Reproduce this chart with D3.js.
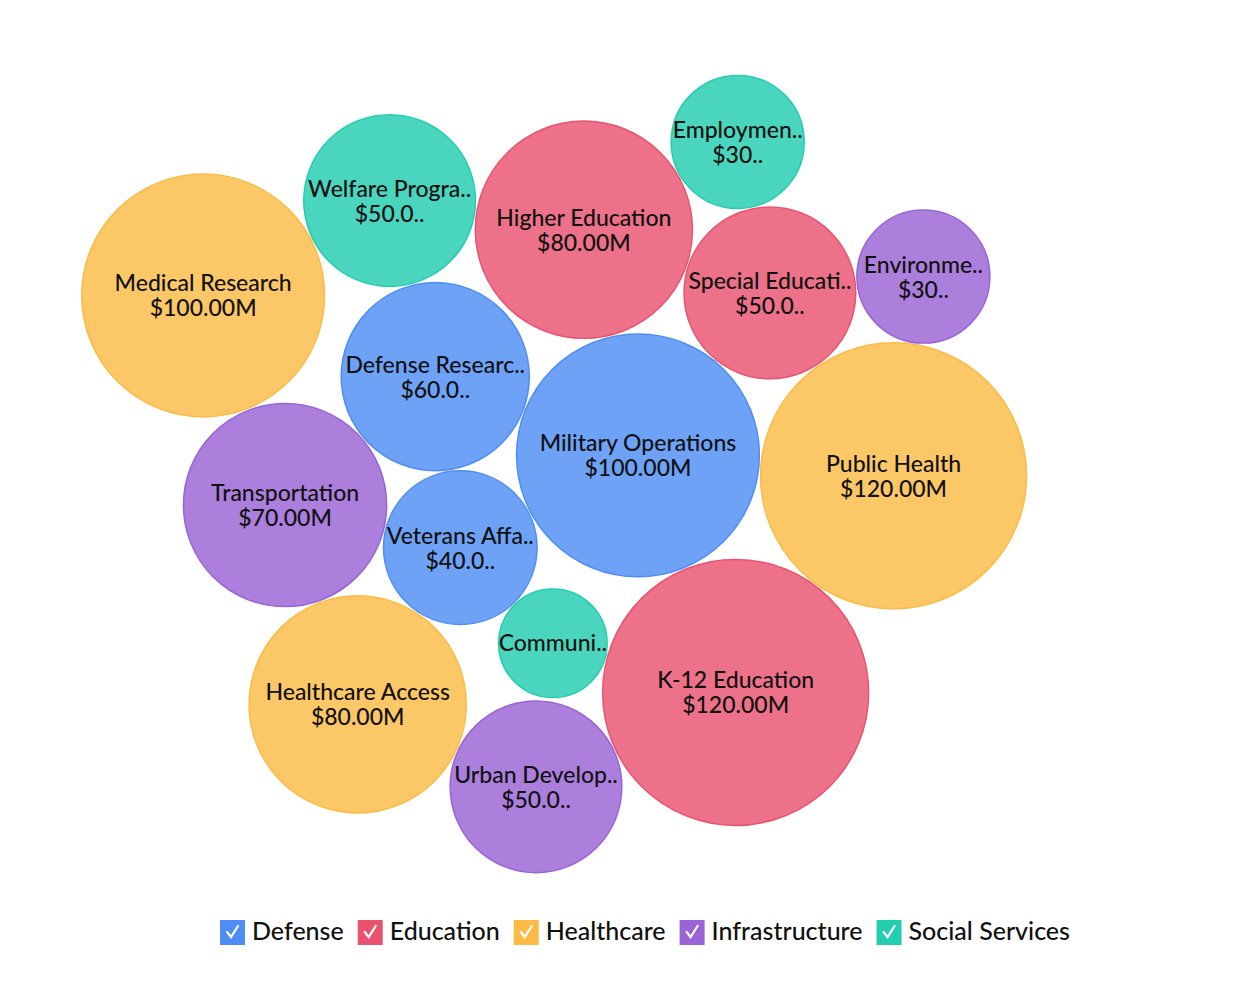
<!DOCTYPE html>
<html lang="en">
<head>
<meta charset="UTF-8">
<title>Budget Bubbles</title>
<script src="https://cdn.jsdelivr.net/npm/d3@7"></script>
<style>
  body { margin: 0; background: #fff; font-family: Lato, "Open Sans", sans-serif; }
  svg text { font-family: Lato, "Open Sans", sans-serif; font-weight: 500; }
</style>
</head>
<body>
<div id="chart"></div>
<script>
// data, in spiral seeding order
const names = ["Military Operations", "Veterans Affairs", "Higher Education", "K-12 Education",
  "Defense Research", "Special Education", "Community Services", "Welfare Programs", "Public Health",
  "Transportation", "Employment Services", "Urban Development", "Medical Research",
  "Environmental Protection", "Healthcare Access"];
const groups = ["Defense", "Defense", "Education", "Education",
  "Defense", "Education", "Social Services", "Social Services", "Healthcare",
  "Infrastructure", "Social Services", "Infrastructure", "Healthcare",
  "Infrastructure", "Healthcare"];
const values = [100, 40, 80, 120, 60, 50, 20, 50, 120, 70, 30, 50, 100, 30, 80]; // $M

const legendItems = ["Defense", "Education", "Healthcare", "Infrastructure", "Social Services"];
const legendColors = ["#4e8df5", "#e9536f", "#fbbb45", "#9a63d6", "#22cdb0"];

const width = 1258, height = 984;
const cx = 566, cy = 458;

const color = d3.scaleOrdinal().domain(legendItems).range(legendColors);
const rScale = d3.scaleSqrt().domain([0, d3.max(values)]).range([0, 133]);

const svg = d3.select("#chart").append("svg")
  .attr("width", width).attr("height", height);

const nodes = names.map((n, i) => {
  const a = i * Math.PI * (3 - Math.sqrt(5));
  const d = 100 * Math.sqrt(i + 0.5);
  return { name: n, group: groups[i], value: values[i], r: rScale(values[i]),
           x: cx + d * Math.cos(a), y: cy + d * Math.sin(a) };
});

const sim = d3.forceSimulation(nodes)
  .force("x", d3.forceX(cx).strength(0.03))
  .force("y", d3.forceY(cy).strength(0.045))
  .force("collide", d3.forceCollide(d => d.r + 1).strength(1).iterations(4))
  .stop();
for (let i = 0; i < 400; i++) sim.tick();

const fmt = v => "$" + d3.format(".2f")(v) + "M";

const bubble = svg.append("g").selectAll("g")
  .data(nodes).join("g")
  .attr("transform", d => `translate(${d.x},${d.y})`);

bubble.append("circle")
  .attr("r", d => d.r)
  .attr("fill", d => color(d.group))
  .attr("fill-opacity", 0.82)
  .attr("stroke", d => color(d.group))
  .attr("stroke-width", 1.5);

// trim a tspan so it fits maxW
function fit(sel, str, maxW) {
  sel.text(str);
  if (sel.node().getComputedTextLength() <= maxW) return false;
  let k = str.length;
  while (k > 0) {
    k--;
    sel.text(str.slice(0, k));
    if (sel.node().getComputedTextLength() <= maxW) break;
  }
  sel.text(str.slice(0, k).trim() + "..");
  return true;
}

bubble.each(function(d) {
  const showValue = d.r >= 60;
  const label = d3.select(this).append("text")
    .attr("text-anchor", "middle")
    .attr("y", showValue ? -4 : 8)
    .style("font-size", "23px")
    .attr("fill", "#111");
  const t1 = label.append("tspan").attr("x", 0);
  const cut = fit(t1, d.name, d.r * 1.8);
  if (!showValue) return;
  let v = fmt(d.value);
  if (cut) v = v.slice(0, Math.min(5, Math.floor((d.r - 40) / 7))) + "..";
  label.append("tspan").attr("x", 0).attr("dy", 25).text(v);
});

// legend
const legend = svg.append("g");
const items = legend.selectAll("g").data(legendItems).join("g");
items.append("rect")
  .attr("width", 25).attr("height", 25).attr("y", -18)
  .attr("fill", d => color(d));
items.append("path")
  .attr("d", "M7,-6 L11,-1 L18,-12")
  .attr("fill", "none").attr("stroke", "#fff").attr("stroke-width", 2.2)
  .attr("stroke-linecap", "round");
items.append("text")
  .attr("x", 32).attr("y", 2)
  .style("font-size", "25px")
  .attr("fill", "#111")
  .text(d => d);

let lx = 0;
items.each(function() {
  d3.select(this).attr("transform", `translate(${lx},0)`);
  lx += this.getBBox().width + 14;
});
lx -= 14;
legend.attr("transform", `translate(${(width + 32 - lx) / 2},938)`);
</script>
</body>
</html>
